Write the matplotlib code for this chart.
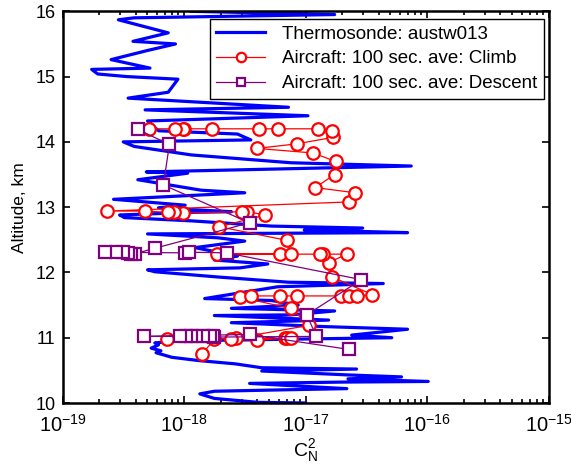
import numpy as np
import matplotlib
matplotlib.use("Agg")
import matplotlib.pyplot as plt
from matplotlib.ticker import FixedLocator, FixedFormatter, LogLocator, NullFormatter

plt.rcParams['font.family'] = ['Liberation Sans', 'DejaVu Sans']
plt.rcParams['mathtext.fontset'] = 'custom'
plt.rcParams['mathtext.rm'] = 'Liberation Sans'
plt.rcParams['mathtext.it'] = 'Liberation Sans'

# ---- Thermosonde profile: log10(Cn2) and altitude (km), bottom to top ----
sonde_log = [-17.00, -17.39, -17.75, -17.87, -17.75, -17.23, -16.66, -17.06, -17.46, -16.71,
             -15.99, -16.65, -16.21, -16.65, -17.36, -16.58, -17.36, -17.58, -17.88, -18.10,
             -18.23, -18.19, -18.27, -18.21, -18.24, -18.08, -17.39, -16.29, -16.62, -16.16,
             -16.84, -17.61, -16.81, -17.75, -17.12, -16.76, -17.61, -17.06, -17.28, -17.83,
             -17.23, -16.36, -17.14, -17.72, -18.24, -18.30, -17.54, -17.31, -17.75, -17.56,
             -17.91, -17.50, -17.72, -18.30, -16.16, -17.01, -16.53, -17.28, -17.94, -18.49,
             -18.53, -17.94, -17.61, -18.21, -17.99, -18.58, -17.50, -17.86, -18.38, -17.97,
             -18.31, -16.13, -17.12, -17.94, -18.41, -18.50, -17.45, -17.56, -18.21, -18.30,
             -16.98, -18.32, -17.14, -18.46, -18.13, -18.05, -18.47, -18.71, -18.76, -18.28,
             -18.60, -18.30, -18.07, -18.42, -18.13, -18.54, -18.41, -16.76, -17.94]
sonde_alt = [10.00, 10.01, 10.07, 10.14, 10.18, 10.20, 10.22, 10.26, 10.30, 10.32,
             10.33, 10.37, 10.40, 10.43, 10.49, 10.52, 10.54, 10.60, 10.65, 10.70,
             10.77, 10.80, 10.84, 10.89, 10.92, 10.95, 10.97, 11.00, 11.04, 11.13,
             11.17, 11.23, 11.27, 11.34, 11.35, 11.41, 11.45, 11.50, 11.57, 11.60,
             11.78, 11.83, 11.85, 11.93, 12.01, 12.04, 12.07, 12.13, 12.19, 12.25,
             12.38, 12.48, 12.53, 12.59, 12.61, 12.65, 12.68, 12.71, 12.79, 12.84,
             12.88, 12.92, 12.93, 12.99, 13.03, 13.12, 13.22, 13.26, 13.42, 13.52,
             13.54, 13.63, 13.68, 13.80, 13.93, 14.00, 14.03, 14.12, 14.17, 14.32,
             14.40, 14.49, 14.53, 14.67, 14.76, 14.96, 15.00, 15.04, 15.11, 15.13,
             15.26, 15.40, 15.50, 15.54, 15.67, 15.87, 15.90, 15.95, 16.00]

# ---- Aircraft climb (100 s averages) ----
climb_log = [-17.85, -17.75, -18.14, -17.17, -17.15, -17.12, -17.40, -17.57, -17.61, -16.97,
             -17.12, -17.54, -17.45, -17.21, -17.07, -16.71, -16.64, -16.58, -16.45, -16.78,
             -16.81, -16.66, -16.86, -16.88, -17.21, -17.73, -17.12, -17.15, -17.71, -17.33,
             -17.48, -17.52, -18.01, -18.08, -18.13, -18.32, -18.63, -16.64, -16.59, -16.92,
             -16.76, -16.75, -16.94, -17.40, -17.07, -16.77, -16.78, -16.90, -17.23, -17.38,
             -17.77, -18.00, -18.01, -18.07, -18.29]
climb_alt = [10.75, 10.98, 10.98, 10.99, 10.99, 10.99, 10.97, 10.99, 10.98, 11.19,
             11.45, 11.62, 11.64, 11.64, 11.64, 11.64, 11.64, 11.64, 11.66, 11.93,
             12.15, 12.28, 12.28, 12.28, 12.28, 12.28, 12.29, 12.49, 12.70, 12.88,
             12.93, 12.93, 12.91, 12.93, 12.92, 12.94, 12.94, 13.08, 13.22, 13.30,
             13.50, 13.70, 13.83, 13.90, 13.97, 14.07, 14.17, 14.20, 14.20, 14.20,
             14.20, 14.20, 14.20, 14.20, 14.20]

# ---- Aircraft descent (100 s averages) ----
desc_log = [-18.38, -18.12, -18.17, -17.46, -18.24, -18.40, -18.44, -18.46, -18.50, -18.56,
            -18.65, -17.99, -17.96, -17.65, -16.54, -16.99, -16.91, -17.75, -17.76, -17.79,
            -17.84, -17.90, -17.94, -17.98, -18.03, -18.33, -17.46, -16.64]
desc_alt = [14.19, 13.96, 13.34, 12.76, 12.37, 12.29, 12.29, 12.30, 12.31, 12.31,
            12.31, 12.30, 12.31, 12.30, 11.89, 11.35, 11.02, 11.01, 11.02, 11.02,
            11.02, 11.02, 11.02, 11.02, 11.02, 11.02, 11.05, 10.82]

labels = ['Thermosonde: austw013',
          'Aircraft: 100 sec. ave: Climb',
          'Aircraft: 100 sec. ave: Descent']
xticks = [1e-19, 1e-18, 1e-17, 1e-16, 1e-15]
xticklabels = [r'$\mathregular{10^{-19}}$', r'$\mathregular{10^{-18}}$',
               r'$\mathregular{10^{-17}}$', r'$\mathregular{10^{-16}}$',
               r'$\mathregular{10^{-15}}$']
yticks = [10, 11, 12, 13, 14, 15, 16]

fig = plt.figure(figsize=(5.71, 4.65), dpi=100)
ax = fig.add_axes([62.5 / 571, 1 - 403 / 465, 486 / 571, (403 - 11.3) / 465])

ax.plot(10 ** np.array(sonde_log), sonde_alt, color='#0000ff', lw=2.3, label=labels[0], zorder=2)
ax.plot(10 ** np.array(climb_log), climb_alt, color='#ff0000', lw=0.9, marker='o', ms=9,
        mfc='white', mec='#ff0000', mew=1.6, label=labels[1], zorder=3)
ax.plot(10 ** np.array(desc_log), desc_alt, color='#800080', lw=0.9, marker='s', ms=8,
        mfc='white', mec='#800080', mew=1.6, label=labels[2], zorder=4)

ax.set_xscale('log')
ax.set_xlim(1e-19, 1e-15)
ax.set_ylim(10, 16)
ax.xaxis.set_major_locator(FixedLocator(xticks))
ax.xaxis.set_major_formatter(FixedFormatter(xticklabels))
ax.xaxis.set_minor_locator(LogLocator(base=10, subs=np.arange(2, 10), numticks=20))
ax.xaxis.set_minor_formatter(NullFormatter())
ax.set_yticks(yticks)
ax.set_yticklabels([str(v) for v in yticks])

ax.tick_params(which='both', direction='in', top=True, right=True, width=1.2)
ax.tick_params(which='major', length=5)
ax.tick_params(which='minor', length=3)
ax.tick_params(axis='x', which='major', pad=8, labelsize=14.5)
ax.tick_params(axis='y', which='major', pad=5, labelsize=13)
for s in ax.spines.values():
    s.set_linewidth(1.8)

ax.set_xlabel(r'$\mathregular{C_N^2}$', fontsize=14, labelpad=1)
ax.set_ylabel('Altitude, km', fontsize=12.5, labelpad=6)

leg = ax.legend(loc='upper right', bbox_to_anchor=(0.99, 0.98), borderaxespad=0,
                fontsize=13.5, fancybox=False, framealpha=1, edgecolor='black',
                handlelength=2.6, markerscale=0.75, borderpad=0.35, labelspacing=0.4,
                handletextpad=0.9)
leg.get_frame().set_linewidth(1.0)

fig.savefig('out.png', dpi=100)
